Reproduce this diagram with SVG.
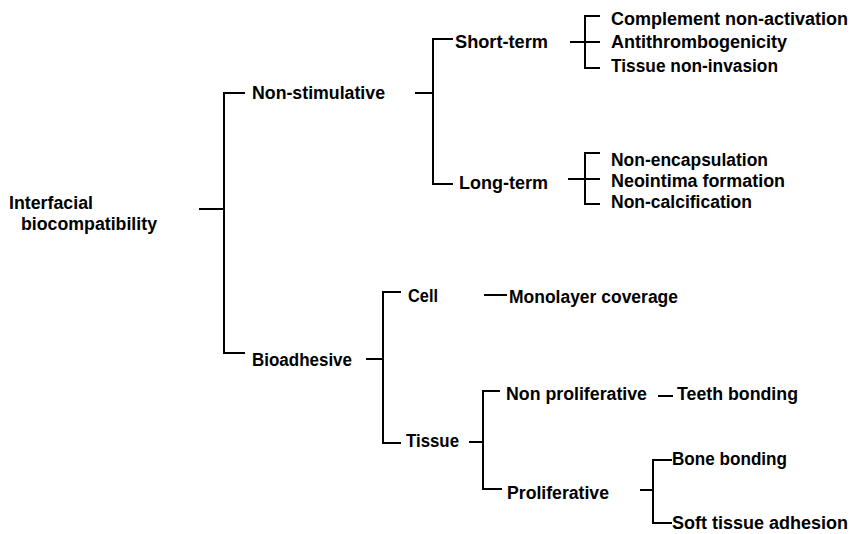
<svg xmlns="http://www.w3.org/2000/svg" width="850" height="534" viewBox="0 0 850 534">
<style>
text{font-family:"Liberation Sans",Arial,sans-serif;font-weight:bold;font-size:18px;fill:#000}
.c{stroke:#000;stroke-width:2;fill:none}
</style>
<rect width="850" height="534" fill="#fff"/>
<g id="connectors" class="c">
<path d="M199,209H224M245,93H224V353H245"/>
<path d="M415,93H433M453,39H433V184H453"/>
<path d="M570,42H600M600,16H585V68H600"/>
<path d="M568,179H600M600,153H585V204H600"/>
<path d="M366,359H383M401,292H383V443H401"/>
<path d="M484,295H507"/>
<path d="M469,442H483M500,391H483V489H502"/>
<path d="M658,396H673"/>
<path d="M640,490H653M672,460H653V523H672"/>
</g>
<g id="n-root"><text x="9" y="209" textLength="84" lengthAdjust="spacingAndGlyphs">Interfacial</text><text x="21" y="230" textLength="136" lengthAdjust="spacingAndGlyphs">biocompatibility</text></g>
<g id="n-nonstim"><text x="252" y="99" textLength="133" lengthAdjust="spacingAndGlyphs">Non-stimulative</text></g>
<g id="n-short"><text x="455" y="48" textLength="93" lengthAdjust="spacingAndGlyphs">Short-term</text></g>
<g id="n-long"><text x="459" y="189" textLength="89" lengthAdjust="spacingAndGlyphs">Long-term</text></g>
<g id="n-complement"><text x="611" y="25" textLength="237" lengthAdjust="spacingAndGlyphs">Complement non-activation</text></g>
<g id="n-antithromb"><text x="611" y="48" textLength="176" lengthAdjust="spacingAndGlyphs">Antithrombogenicity</text></g>
<g id="n-noninvasion"><text x="611" y="72" textLength="167" lengthAdjust="spacingAndGlyphs">Tissue non-invasion</text></g>
<g id="n-nonencap"><text x="611" y="166" textLength="157" lengthAdjust="spacingAndGlyphs">Non-encapsulation</text></g>
<g id="n-neointima"><text x="611" y="187" textLength="174" lengthAdjust="spacingAndGlyphs">Neointima formation</text></g>
<g id="n-noncalc"><text x="611" y="208" textLength="141" lengthAdjust="spacingAndGlyphs">Non-calcification</text></g>
<g id="n-bioadhesive"><text x="252" y="366" textLength="100" lengthAdjust="spacingAndGlyphs">Bioadhesive</text></g>
<g id="n-cell"><text x="408" y="302" textLength="30" lengthAdjust="spacingAndGlyphs">Cell</text></g>
<g id="n-monolayer"><text x="509" y="303" textLength="169" lengthAdjust="spacingAndGlyphs">Monolayer coverage</text></g>
<g id="n-tissue"><text x="406" y="447" textLength="53" lengthAdjust="spacingAndGlyphs">Tissue</text></g>
<g id="n-nonprolif"><text x="506" y="400" textLength="141" lengthAdjust="spacingAndGlyphs">Non proliferative</text></g>
<g id="n-teeth"><text x="677" y="400" textLength="121" lengthAdjust="spacingAndGlyphs">Teeth bonding</text></g>
<g id="n-prolif"><text x="507" y="499" textLength="102" lengthAdjust="spacingAndGlyphs">Proliferative</text></g>
<g id="n-bone"><text x="672" y="465" textLength="115" lengthAdjust="spacingAndGlyphs">Bone bonding</text></g>
<g id="n-soft"><text x="672" y="529" textLength="176" lengthAdjust="spacingAndGlyphs">Soft tissue adhesion</text></g>
</svg>
